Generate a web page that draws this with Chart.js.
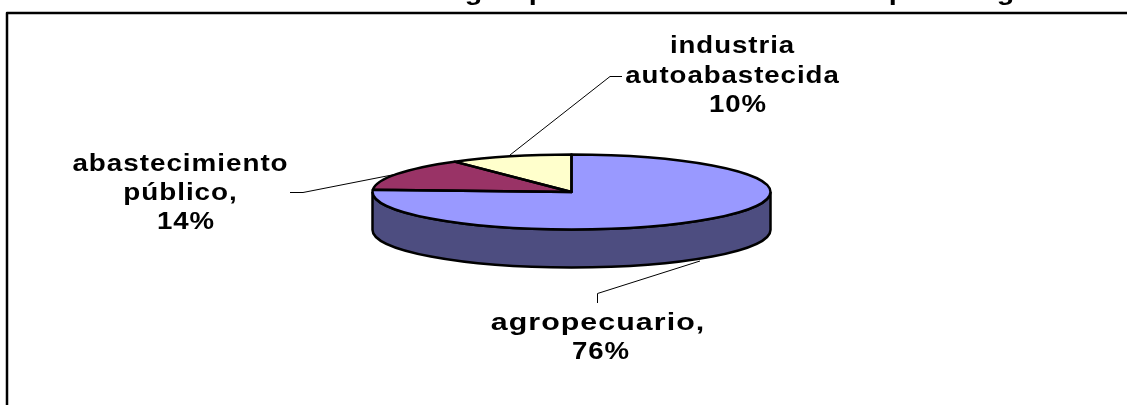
<!DOCTYPE html>
<html lang="es">
<head>
<meta charset="utf-8">
<title>Pie chart</title>
<script src="https://cdn.jsdelivr.net/npm/chart.js@4"></script>
<style>
  html, body { margin: 0; padding: 0; background: #fff; overflow: hidden; }
  canvas { display: block; }
</style>
</head>
<body>
<canvas id="pie" width="1127" height="405"></canvas>
<script>
// ─── Data ─────────────────────────────────────────────────────────
const categories = ['agropecuario', 'abastecimiento público', 'industria autoabastecida'];
const values = [76, 14, 10];
const labelLines = [['agropecuario,'], ['abastecimiento', 'público,'], ['industria', 'autoabastecida']];
const sliceColors = ['#9999FF', '#993366', '#FFFFCC'];
const sideColors = ['#4D4D80', '#4D1A33', '#808066'];
// the title is cut off by the top of the image, only these tails show
const titleTails = ['g', 'p', 'p', 'g'];

// ─── Layout ───────────────────────────────────────────────────────
const PIE = { y: 192, radius: 199, squash: 37.5 / 199, depth: 38 };
const FONT = 'bold 23px "Liberation Sans", Arial, sans-serif';
const LETTER_GAP = '0.8px';
const labelBoxes = [
  { x: 598, y: 330, pctX: 601, lineGap: 29, stretch: 1.32 },
  { x: 180.5, y: 171, pctX: 186, lineGap: 29, stretch: 1.21 },
  { x: 732.5, y: 53, pctX: 738, lineGap: 29.5, stretch: 1.2 }
];
const leaders = [
  [[597.5, 303], [597.5, 293.5], [700, 261]],
  [[290, 192.5], [303, 192.5], [397, 174]],
  [[622, 76.5], [610, 76.5], [510, 155]]
];
const tailXs = [474, 538, 898, 1006];

function drawText(ctx, text, x, y, stretch) {
  ctx.save();
  ctx.translate(x, y);
  ctx.scale(stretch, 1);
  ctx.fillText(text, 0, 0);
  ctx.restore();
}

// ─── Flattened 3D pie ─────────────────────────────────────────────
const pie3d = {
  id: 'pie3d',
  beforeDatasetsDraw(chart) {
    const ctx = chart.ctx;
    const arcs = chart.getDatasetMeta(0).data;
    const ry = PIE.radius * PIE.squash;

    // side wall, only the part of a slice facing the viewer
    arcs.forEach((arc, i) => {
      const start = Math.max(arc.startAngle, 0);
      const end = Math.min(arc.endAngle, Math.PI);
      if (start >= end) return;
      ctx.beginPath();
      ctx.ellipse(arc.x, PIE.y, arc.outerRadius, ry, 0, start, end);
      ctx.ellipse(arc.x, PIE.y + PIE.depth, arc.outerRadius, ry, 0, end, start, true);
      ctx.closePath();
      ctx.fillStyle = sideColors[i];
      ctx.fill();
      ctx.lineWidth = 2.5;
      ctx.strokeStyle = '#000';
      ctx.stroke();
    });

    // squash the top face that Chart.js is about to draw
    const cy = arcs[0].y;
    ctx.save();
    ctx.translate(0, PIE.y);
    ctx.scale(1, PIE.squash);
    ctx.translate(0, -cy);
  },
  afterDatasetsDraw(chart) {
    const ctx = chart.ctx;
    ctx.restore();
    const ry = PIE.radius * PIE.squash;
    chart.getDatasetMeta(0).data.forEach(arc => {
      ctx.beginPath();
      ctx.moveTo(arc.x, PIE.y);
      ctx.ellipse(arc.x, PIE.y, arc.outerRadius, ry, 0, arc.startAngle, arc.endAngle);
      ctx.closePath();
      ctx.lineWidth = 2.5;
      ctx.lineJoin = 'round';
      ctx.strokeStyle = '#000';
      ctx.stroke();
    });
  },
  afterDraw(chart) {
    const ctx = chart.ctx;
    ctx.save();

    // frame, open at the right and the bottom
    ctx.beginPath();
    ctx.moveTo(7, 405);
    ctx.lineTo(7, 13);
    ctx.lineTo(1127, 13);
    ctx.lineWidth = 2.5;
    ctx.strokeStyle = '#000';
    ctx.stroke();

    // leader lines
    ctx.lineWidth = 1;
    leaders.forEach(points => {
      ctx.beginPath();
      points.forEach(([x, y], i) => i ? ctx.lineTo(x, y) : ctx.moveTo(x, y));
      ctx.stroke();
    });

    // labels
    ctx.fillStyle = '#000';
    ctx.font = FONT;
    ctx.letterSpacing = LETTER_GAP;
    ctx.textAlign = 'center';
    ctx.textBaseline = 'alphabetic';
    labelLines.forEach((lines, i) => {
      const box = labelBoxes[i];
      lines.forEach((line, n) => {
        drawText(ctx, line, box.x, box.y + n * box.lineGap, box.stretch);
      });
      drawText(ctx, values[i] + '%', box.pctX, box.y + lines.length * box.lineGap, 1.2);
    });

    // what is left of the title
    titleTails.forEach((tail, i) => drawText(ctx, tail, tailXs[i], -0.5, 1.25));

    ctx.restore();
  }
};

// ─── Chart ────────────────────────────────────────────────────────
new Chart(document.getElementById('pie').getContext('2d'), {
  type: 'pie',
  data: {
    labels: categories,
    datasets: [{ data: values, backgroundColor: sliceColors, borderWidth: 0 }]
  },
  options: {
    responsive: false,
    animation: false,
    radius: PIE.radius,
    layout: { padding: { left: 16 } },
    plugins: { legend: { display: false }, tooltip: { enabled: false } }
  },
  plugins: [pie3d]
});
</script>
</body>
</html>
